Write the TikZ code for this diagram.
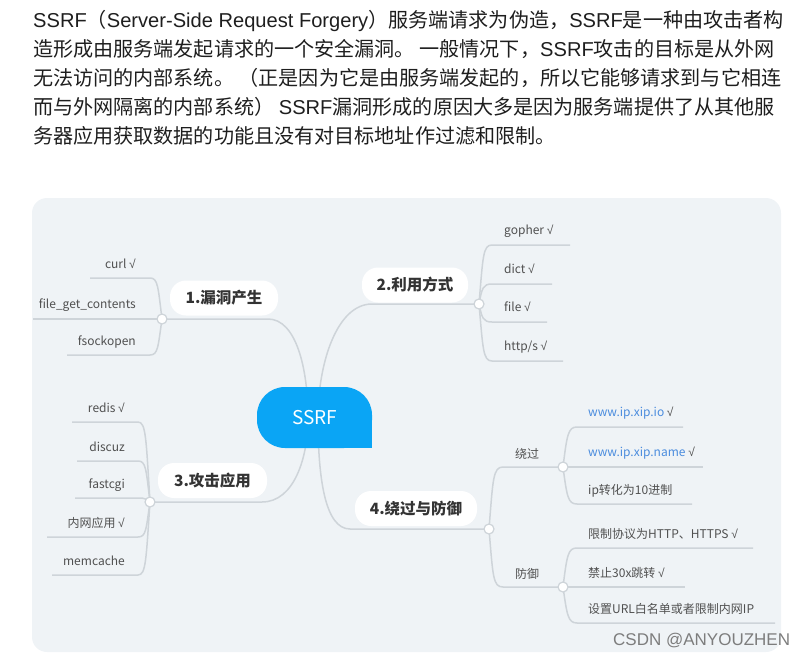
\documentclass[tikz,border=0pt]{standalone}
\usepackage{fontspec}
\setmainfont{Noto Sans CJK SC}
\newfontfamily\lat{Liberation Sans}
\newcommand{\chkmk}{{\lat √}}
\definecolor{panelC}{RGB}{239,243,246}
\definecolor{lineC}{RGB}{206,212,217}
\definecolor{ssrfC}{RGB}{10,165,245}
\definecolor{txtC}{RGB}{30,30,30}
\definecolor{childC}{RGB}{80,80,80}
\definecolor{topicC}{RGB}{51,51,51}
\definecolor{linkC}{RGB}{74,140,222}
\definecolor{markC}{RGB}{125,125,125}
\begin{document}
\begin{tikzpicture}[x=1pt,y=-1pt,
  branch/.style={draw=lineC, line width=1.5pt},
  dot/.style={circle, draw=lineC, line width=1.2pt, fill=white, minimum size=10pt, inner sep=0pt},
  topicbox/.style={fill=white, rounded corners=16pt, minimum height=35pt, inner sep=0pt,
     font=\bfseries\fontsize{15.5}{16}\selectfont, text=topicC},
  leaf/.style={font=\fontsize{12}{14}\selectfont, text=childC, inner sep=0pt},
  para/.style={font=\fontsize{20.1}{22}\selectfont, text=txtC, inner sep=0pt, anchor=base west}]
\useasboundingbox (0,0) rectangle (807,656);
% paragraph
\node[para] (p1) at (33,27.5) {{\lat SSRF}（{\lat Server-Side Request Forgery}）服务端请求为伪造，{\lat SSRF}是一种由攻击者构};
\node[para] (p2) at (33,56.5) {造形成由服务端发起请求的一个安全漏洞。 一般情况下，{\lat SSRF}攻击的目标是从外网};
\node[para] (p3) at (33,85.5) {无法访问的内部系统。 （正是因为它是由服务端发起的，所以它能够请求到与它相连};
\node[para] (p4) at (33,114.5) {而与外网隔离的内部系统） {\lat SSRF}漏洞形成的原因大多是因为服务端提供了从其他服};
\node[para] (p5) at (33,143.5) {务器应用获取数据的功能且没有对目标地址作过滤和限制。};
% panel
\fill[panelC, rounded corners=15pt] (32,198) rectangle (781,652);
% coordinates
\coordinate (h1) at (308,418); \coordinate (h2) at (318,418);
\coordinate (k1) at (162,319); \coordinate (k2) at (479,304);
\coordinate (k3) at (150,502); \coordinate (k4) at (489,529);
\coordinate (k5) at (563,467); \coordinate (k6) at (563,587);
\coordinate (t1) at (268,319); \coordinate (t2) at (372,304);
\coordinate (t3) at (262,502); \coordinate (t4) at (350,529);
% main branches
\draw[branch] (k1) -- (t1) .. controls +(28,0) and +(0,-50) .. (h1);
\draw[branch] (k2) -- (t2) .. controls +(-35,0) and +(0,-55) .. (h2);
\draw[branch] (k3) -- (t3) .. controls +(32,0) and +(0,40) .. (h1);
\draw[branch] (k4) -- (t4) .. controls +(-25,0) and +(0,60) .. (h2);
% children of 1
\coordinate (a1s) at (150,278); \coordinate (a1e) at (90,278);
\coordinate (a2e) at (33,319);
\coordinate (a3s) at (150,355); \coordinate (a3e) at (67,355);
\draw[branch] (k1) .. controls +(-4,-32) and +(8,0) .. (a1s) -- (a1e);
\draw[branch] (k1) -- (a2e);
\draw[branch] (k1) .. controls +(-4,28) and +(8,0) .. (a3s) -- (a3e);
% children of 2
\coordinate (b1s) at (492,245); \coordinate (b1e) at (570,245);
\coordinate (b2s) at (492,284); \coordinate (b2e) at (552,284);
\coordinate (b3s) at (492,322); \coordinate (b3e) at (547,322);
\coordinate (b4s) at (492,361); \coordinate (b4e) at (563,361);
\draw[branch] (k2) .. controls +(4,-48) and +(-9,0) .. (b1s) -- (b1e);
\draw[branch] (k2) .. controls +(3,-16) and +(-9,0) .. (b2s) -- (b2e);
\draw[branch] (k2) .. controls +(3,14) and +(-9,0) .. (b3s) -- (b3e);
\draw[branch] (k2) .. controls +(4,45) and +(-9,0) .. (b4s) -- (b4e);
% children of 3
\coordinate (d1s) at (138,422); \coordinate (d1e) at (72,422);
\coordinate (d2s) at (138,461); \coordinate (d2e) at (77,461);
\coordinate (d3s) at (140,498); \coordinate (d3e) at (75,498);
\coordinate (d4s) at (138,537); \coordinate (d4e) at (47,537);
\coordinate (d5s) at (138,575); \coordinate (d5e) at (52,575);
\draw[branch] (k3) .. controls +(-4,-64) and +(8,0) .. (d1s) -- (d1e);
\draw[branch] (k3) .. controls +(-4,-33) and +(8,0) .. (d2s) -- (d2e);
\draw[branch] (k3) .. controls +(-4,-3) and +(4,0) .. (d3s) -- (d3e);
\draw[branch] (k3) .. controls +(-4,28) and +(8,0) .. (d4s) -- (d4e);
\draw[branch] (k3) .. controls +(-4,58) and +(8,0) .. (d5s) -- (d5e);
% children of 4
\coordinate (e1s) at (503,467); \coordinate (e2s) at (503,587);
\draw[branch] (k4) .. controls +(4,-50) and +(-10,0) .. (e1s) -- (k5);
\draw[branch] (k4) .. controls +(4,48) and +(-10,0) .. (e2s) -- (k6);
% children of bypass
\coordinate (f1s) at (577,427); \coordinate (f1e) at (683,427);
\coordinate (f2e) at (703,467);
\coordinate (f3s) at (577,504); \coordinate (f3e) at (692,504);
\draw[branch] (k5) .. controls +(4,-32) and +(-9,0) .. (f1s) -- (f1e);
\draw[branch] (k5) -- (f2e);
\draw[branch] (k5) .. controls +(4,30) and +(-9,0) .. (f3s) -- (f3e);
% children of defense
\coordinate (g1s) at (577,548); \coordinate (g1e) at (753,548);
\coordinate (g2e) at (685,587);
\coordinate (g3s) at (577,623); \coordinate (g3e) at (775,623);
\draw[branch] (k6) .. controls +(4,-32) and +(-9,0) .. (g1s) -- (g1e);
\draw[branch] (k6) -- (g2e);
\draw[branch] (k6) .. controls +(4,28) and +(-9,0) .. (g3s) -- (g3e);
% dots
\foreach \k/\c in {k1/c1,k2/c2,k3/c3,k4/c4,k5/c5,k6/c6} \node[dot] (\c) at (\k) {};
% central node
\fill[ssrfC] (342,418) rectangle (372,448);
\node[fill=ssrfC, rounded corners=28pt, minimum width=115pt, minimum height=61pt, inner sep=0pt,
  text=white, font=\fontsize{19}{20}\selectfont] (ssrf) at (314.5,417.5) {SSRF};
% topics
\node[topicbox, minimum width=108pt] (n1) at (224,298) {1.漏洞产生};
\node[topicbox, minimum width=106pt] (n2) at (415,285) {2.利用方式};
\node[topicbox, minimum width=109pt] (n3) at (212.5,480.5) {3.攻击应用};
\node[topicbox, minimum width=122pt] (n4) at (416,508.5) {4.绕过与防御};
% leaves 1
\node[leaf, anchor=base east] (l11) at (136,268) {curl \chkmk};
\node[leaf, anchor=base east] (l12) at (136,308) {file\_get\_contents};
\node[leaf, anchor=base east] (l13) at (136,345) {fsockopen};
% leaves 2
\node[leaf, anchor=base west] (l21) at (504,234) {gopher \chkmk};
\node[leaf, anchor=base west] (l22) at (504,273) {dict \chkmk};
\node[leaf, anchor=base west] (l23) at (504,311) {file \chkmk};
\node[leaf, anchor=base west] (l24) at (504,350) {http/s \chkmk};
% leaves 3
\node[leaf, anchor=base east] (l31) at (125,412) {redis \chkmk};
\node[leaf, anchor=base east] (l32) at (125,451) {discuz};
\node[leaf, anchor=base east] (l33) at (125,488) {fastcgi};
\node[leaf, anchor=base east] (l34) at (125,527) {内网应用 \chkmk};
\node[leaf, anchor=base east] (l35) at (125,565) {memcache};
% leaves 4
\node[leaf, anchor=base west] (m1) at (515,458) {绕过};
\node[leaf, anchor=base west] (m2) at (515,578) {防御};
\node[leaf, anchor=base west] (l41) at (588,416) {{\color{linkC}www.ip.xip.io} \chkmk};
\node[leaf, anchor=base west] (l42) at (588,456) {{\color{linkC}www.ip.xip.name} \chkmk};
\node[leaf, anchor=base west] (l43) at (588,494) {ip转化为10进制};
\node[leaf, anchor=base west] (l44) at (588,538) {限制协议为HTTP、HTTPS \chkmk};
\node[leaf, anchor=base west] (l45) at (588,577) {禁止30x跳转 \chkmk};
\node[leaf, anchor=base west] (l46) at (588,613) {设置URL白名单或者限制内网IP};
% watermark
\node[anchor=base west, inner sep=0pt, text=markC, font=\lat\fontsize{17}{18}\selectfont] (wm) at (613,645) {CSDN @ANYOUZHEN};
\end{tikzpicture}
\end{document}
